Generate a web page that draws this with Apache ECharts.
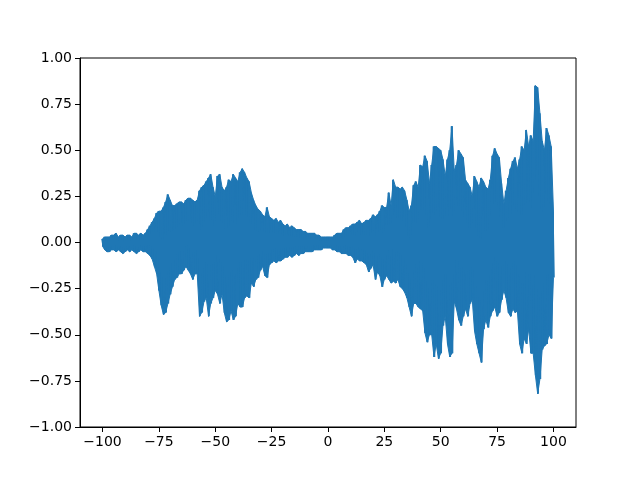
<!DOCTYPE html>
<html>
<head>
<meta charset="utf-8">
<script src="https://cdn.jsdelivr.net/npm/echarts@6/dist/echarts.min.js"></script>
<style>
  html, body { margin: 0; padding: 0; background: #fff; }
  #main { width: 640px; height: 480px; }
</style>
</head>
<body>
<div id="main"></div>
<script>
// samples at x = -100, -99, ... 100 (one per unit)
var xStart = -100;
var xStep = 1;

// upper edge of the signal at each sample
var topVals = [
  0.02, 0.03, 0.03, 0.03, 0.04, 0.04, 0.05, 0.03, 0.04, 0.04,
  0.03, 0.04, 0.04, 0.03, 0.05, 0.05, 0.04, 0.05, 0.04, 0.05,
  0.07, 0.09, 0.11, 0.13, 0.16, 0.17, 0.17, 0.19, 0.22, 0.26,
  0.23, 0.2, 0.2, 0.21, 0.22, 0.22, 0.21, 0.23, 0.24, 0.24,
  0.23, 0.22, 0.23, 0.28, 0.3, 0.31, 0.33, 0.35, 0.37, 0.3,
  0.25, 0.36, 0.37, 0.3, 0.28, 0.3, 0.34, 0.33, 0.37, 0.35,
  0.33, 0.38, 0.4, 0.38, 0.35, 0.33, 0.27, 0.23, 0.2, 0.18,
  0.17, 0.15, 0.14, 0.19, 0.14, 0.13, 0.12, 0.13, 0.11, 0.12,
  0.1, 0.09, 0.1, 0.08, 0.09, 0.08, 0.07, 0.07, 0.07, 0.06,
  0.06, 0.05, 0.05, 0.05, 0.05, 0.04, 0.04, 0.03, 0.03, 0.03,
  0.03, 0.03, 0.03, 0.04, 0.05, 0.05, 0.05, 0.07, 0.08, 0.08,
  0.09, 0.1, 0.1, 0.11, 0.12, 0.1, 0.11, 0.12, 0.12, 0.13,
  0.15, 0.14, 0.15, 0.17, 0.2, 0.19, 0.19, 0.27, 0.2, 0.34,
  0.3, 0.3, 0.29, 0.3, 0.28, 0.23, 0.17, 0.2, 0.31, 0.33,
  0.3, 0.42, 0.41, 0.47, 0.44, 0.32, 0.42, 0.52, 0.52, 0.51,
  0.5, 0.45, 0.36, 0.45, 0.5, 0.63, 0.39, 0.42, 0.5, 0.48,
  0.46, 0.34, 0.32, 0.3, 0.25, 0.36, 0.33, 0.3, 0.35, 0.33,
  0.3, 0.29, 0.34, 0.47, 0.51, 0.48, 0.46, 0.32, 0.21, 0.28,
  0.35, 0.4, 0.44, 0.46, 0.4, 0.45, 0.52, 0.5, 0.61, 0.52,
  0.58, 0.55, 0.85, 0.84, 0.7, 0.55, 0.5, 0.62, 0.58, 0.52,
  0.17
];

// lower edge of the signal at each sample
var botVals = [
  -0.02, -0.04, -0.05, -0.05, -0.04, -0.04, -0.05, -0.04, -0.05, -0.06,
  -0.05, -0.04, -0.05, -0.04, -0.05, -0.06, -0.05, -0.04, -0.05, -0.05,
  -0.06, -0.07, -0.09, -0.13, -0.17, -0.26, -0.34, -0.39, -0.38, -0.33,
  -0.28, -0.24, -0.2, -0.19, -0.17, -0.17, -0.15, -0.13, -0.15, -0.17,
  -0.2, -0.17, -0.17, -0.4, -0.38, -0.32, -0.3, -0.4, -0.33, -0.3,
  -0.26, -0.28, -0.33, -0.28, -0.38, -0.43, -0.42, -0.37, -0.42, -0.4,
  -0.33, -0.35, -0.35, -0.3, -0.29, -0.3, -0.22, -0.24, -0.2, -0.19,
  -0.15, -0.13, -0.18, -0.19, -0.12, -0.11, -0.1, -0.11, -0.1, -0.1,
  -0.09, -0.08, -0.08, -0.07, -0.08, -0.07, -0.06, -0.07, -0.06, -0.06,
  -0.05, -0.05, -0.05, -0.05, -0.04, -0.04, -0.04, -0.04, -0.03, -0.03,
  -0.03, -0.03, -0.04, -0.04, -0.05, -0.05, -0.06, -0.06, -0.06, -0.07,
  -0.07, -0.08, -0.11, -0.09, -0.1, -0.1, -0.11, -0.12, -0.16, -0.14,
  -0.12, -0.2, -0.16, -0.18, -0.24, -0.2, -0.18, -0.2, -0.22, -0.21,
  -0.22, -0.2, -0.24, -0.25, -0.27, -0.3, -0.35, -0.4, -0.33, -0.33,
  -0.35, -0.36, -0.37, -0.49, -0.54, -0.5, -0.5, -0.62, -0.55, -0.63,
  -0.6, -0.45, -0.4, -0.55, -0.62, -0.6, -0.32, -0.36, -0.42, -0.45,
  -0.4, -0.36, -0.4, -0.33, -0.31, -0.48, -0.55, -0.6, -0.65, -0.47,
  -0.42, -0.46, -0.4, -0.37, -0.35, -0.4, -0.38, -0.31, -0.26, -0.3,
  -0.38, -0.4, -0.36, -0.38, -0.37, -0.55, -0.6, -0.52, -0.55, -0.47,
  -0.6, -0.6, -0.72, -0.82, -0.74, -0.58, -0.56, -0.55, -0.5, -0.52,
  -0.19
];

var xTicks = [-100, -75, -50, -25, 0, 25, 50, 75, 100];

var lineColor = '#1f77b4';

// zigzag between the two edges so the outline looks like the dense signal,
// and one [x, top, bottom] row per sample for the filled inside
var lineData = [];
var bandData = [];
for (var i = 0; i < topVals.length; i++) {
  var x = xStart + i * xStep;
  lineData.push([x - 0.25, topVals[i]]);
  lineData.push([x + 0.25, botVals[i]]);
  bandData.push([x, topVals[i], botVals[i]]);
}

function minusSign(s) {
  return s.replace('-', '\u2212');
}

// fill the strip between sample i and i+1, positions from the axes
function renderBand(params, api) {
  var next = params.dataIndexInside + 1;
  if (next >= params.dataInsideLength) return;
  var a = api.coord([api.value(0), api.value(1)]);
  var b = api.coord([api.value(0, next), api.value(1, next)]);
  var c = api.coord([api.value(0, next), api.value(2, next)]);
  var d = api.coord([api.value(0), api.value(2)]);
  return {
    type: 'polygon',
    shape: { points: [a, b, c, d] },
    style: { fill: lineColor, stroke: lineColor, lineWidth: 1 },
    silent: true
  };
}

var chart = echarts.init(document.getElementById('main'), null, { renderer: 'canvas' });

var option = {
  animation: false,
  backgroundColor: '#fff',
  textStyle: { fontFamily: 'DejaVu Sans' },
  grid: {
    left: 80,
    right: 64,
    top: 58,
    bottom: 53,
    show: true,
    borderColor: '#000',
    borderWidth: 1
  },
  xAxis: {
    type: 'value',
    min: -110,
    max: 110,
    axisLine: { show: true, onZero: false, lineStyle: { color: '#000', width: 1 } },
    axisTick: { show: true, inside: false, length: 5, customValues: xTicks, lineStyle: { color: '#000' } },
    axisLabel: {
      customValues: xTicks,
      margin: 8,
      color: '#000',
      fontSize: 14,
      fontFamily: 'DejaVu Sans',
      formatter: function (v) { return minusSign(String(v)); }
    },
    splitLine: { show: false }
  },
  yAxis: {
    type: 'value',
    min: -1,
    max: 1,
    interval: 0.25,
    axisLine: { show: true, onZero: false, lineStyle: { color: '#000', width: 1 } },
    axisTick: { show: true, inside: false, length: 5, lineStyle: { color: '#000' } },
    axisLabel: {
      margin: 8,
      color: '#000',
      fontSize: 14,
      fontFamily: 'DejaVu Sans',
      formatter: function (v) { return minusSign(v.toFixed(2)); }
    },
    splitLine: { show: false }
  },
  series: [
    {
      type: 'custom',
      data: bandData,
      encode: { x: 0, y: [1, 2] },
      renderItem: renderBand,
      silent: true
    },
    {
      type: 'line',
      data: lineData,
      showSymbol: false,
      sampling: null,
      lineStyle: { color: lineColor, width: 1.5 },
      itemStyle: { color: lineColor }
    }
  ]
};

chart.setOption(option);
</script>
</body>
</html>
